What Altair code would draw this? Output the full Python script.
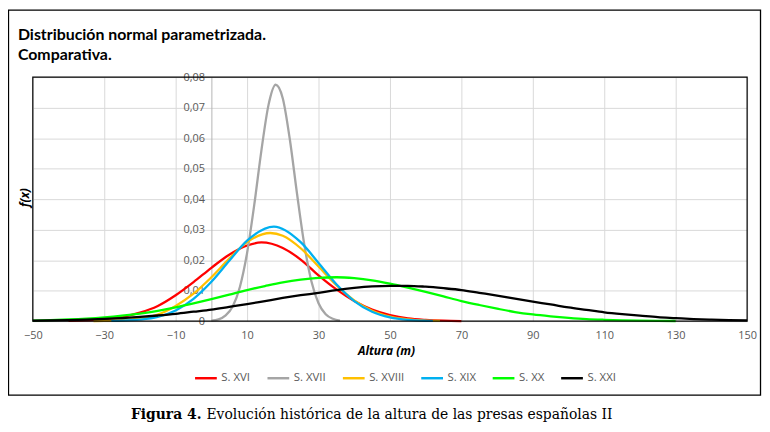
import altair as alt
import pandas as pd

# ---------------- data ----------------
series_names = ["S. XVI", "S. XVII", "S. XVIII", "S. XIX", "S. XX", "S. XXI"]
series_colors = ["#FF0000", "#A5A5A5", "#FFC000", "#00B0F0", "#00FF00", "#000000"]

xvi_x = [-40, -35, -30, -25, -20, -15, -10, -5, 0, 5, 10, 14, 20, 25, 30, 35, 40, 45, 50, 55, 60, 65, 70]
xvi_y = [0.0001, 0.00025, 0.0006, 0.0014, 0.0028, 0.0050, 0.0085, 0.0128, 0.0175, 0.0218, 0.0248, 0.0258,
         0.0240, 0.0202, 0.0150, 0.0104, 0.0066, 0.0038, 0.0020, 0.0009, 0.0004, 0.00015, 0.00005]

xvii_x = [0, 2, 4, 6, 8, 10, 12, 14, 16, 18, 20, 22, 24, 26, 28, 30, 32, 34, 36]
xvii_y = [0.0002, 0.0006, 0.0019, 0.0049, 0.0113, 0.0224, 0.0381, 0.0559, 0.0709, 0.0775,
          0.0730, 0.0593, 0.0416, 0.0252, 0.0131, 0.0059, 0.0023, 0.0008, 0.0002]

xviii_x = [-33, -30, -25, -20, -15, -10, -5, 0, 5, 10, 16.5, 20, 25, 30, 35, 40, 45, 50, 55, 60, 64]
xviii_y = [0.00005, 0.0001, 0.0003, 0.0009, 0.0022, 0.0050, 0.0090, 0.0144, 0.0205, 0.0259, 0.0289,
           0.0280, 0.0239, 0.0179, 0.0118, 0.0068, 0.0034, 0.0015, 0.0006, 0.0002, 0.0001]

xix_x = [-28, -25, -20, -15, -10, -5, 0, 5, 10, 17.5, 25, 30, 35, 40, 45, 50, 55, 60, 62]
xix_y = [0.00007, 0.00015, 0.0005, 0.0014, 0.0035, 0.0073, 0.0129, 0.0198, 0.0264, 0.0310,
         0.0259, 0.0191, 0.0121, 0.0066, 0.0031, 0.00125, 0.00043, 0.00013, 0.00008]

xx_x = [-50, -45, -40, -35, -30, -25, -20, -15, -10, -5, 0, 5, 10, 15, 20, 25, 30, 35, 40, 45,
        50, 55, 60, 65, 70, 75, 80, 85, 90, 95, 100, 105, 110, 115, 120, 125, 130]
xx_y = [0.0002, 0.00035, 0.00055, 0.00084, 0.00125, 0.0018, 0.0025, 0.0034, 0.0045, 0.0058,
        0.0072, 0.0087, 0.0102, 0.0115, 0.0127, 0.0136, 0.0142, 0.0144, 0.0141, 0.0134,
        0.0123, 0.0110, 0.0096, 0.0081, 0.0066, 0.0053, 0.0041, 0.0030, 0.0022, 0.0016,
        0.0011, 0.0007, 0.00046, 0.00029, 0.00018, 0.0001, 0.00006]

xxi_x = [-50, -45, -40, -35, -30, -25, -20, -15, -10, -5, 0, 5, 10, 15, 20, 25, 30, 35, 40, 45,
         50, 55, 60, 65, 70, 75, 80, 85, 90, 95, 100, 105, 110, 115, 120, 125, 130, 135, 140, 145, 150]
xxi_y = [0.00017, 0.00025, 0.00037, 0.00053, 0.00075, 0.00103, 0.0014, 0.00186, 0.0024, 0.0031,
         0.0038, 0.0047, 0.0056, 0.0066, 0.0076, 0.0085, 0.0093, 0.0102, 0.0109, 0.0114,
         0.0116, 0.0116, 0.0113, 0.0108, 0.0102, 0.0093, 0.0084, 0.0074, 0.0064, 0.0055,
         0.0045, 0.0037, 0.0029, 0.0023, 0.0018, 0.0013, 0.0010, 0.0007, 0.0005, 0.00034, 0.00023]

x_ticks = [-50, -30, -10, 10, 30, 50, 70, 90, 110, 130, 150]
y_ticks = [0, 0.01, 0.02, 0.03, 0.04, 0.05, 0.06, 0.07, 0.08]

title_line1 = "Distribución normal parametrizada."
title_line2 = "Comparativa."
x_title = "Altura (m)"
y_title = "f(x)"
caption_bold = "Figura 4."
caption_rest = "Evolución histórica de la altura de las presas españolas II"

# ---------------- build table ----------------
all_x = [xvi_x, xvii_x, xviii_x, xix_x, xx_x, xxi_x]
all_y = [xvi_y, xvii_y, xviii_y, xix_y, xx_y, xxi_y]
frames = []
for i, (name, xs, ys) in enumerate(zip(series_names, all_x, all_y)):
    frames.append(pd.DataFrame({"serie": name, "altura": xs, "fx": ys, "orden": i}))
df = pd.concat(frames, ignore_index=True)

label_font = "Open Sans"
one = pd.DataFrame({"k": [0]})

lines = alt.Chart(df).mark_line(strokeWidth=2.3, interpolate="monotone").encode(
    x=alt.X(
        "altura:Q",
        scale=alt.Scale(domain=[-50, 150], nice=False, zero=False),
        axis=alt.Axis(
            values=x_ticks, title=x_title, grid=True, gridColor="#d9d9d9",
            domain=False, ticks=False, labelColor="#595959", labelFont=label_font,
            labelFontSize=11, labelPadding=8, labelFlush=False, labelBound=False,
            titleFont=label_font, titleFontSize=12, titleFontStyle="italic",
            titleFontWeight="bold", titleColor="#000000",
            titleX=356, titleY=30, titleBaseline="middle", titleAlign="center",
        ),
    ),
    y=alt.Y(
        "fx:Q",
        scale=alt.Scale(domain=[0, 0.08], nice=False),
        axis=alt.Axis(
            values=y_ticks, offset=-180, grid=True, gridColor="#d9d9d9",
            domain=True, domainColor="#b5b5b5", ticks=False,
            labelColor="#595959", labelFont=label_font, labelFontSize=11, labelPadding=7,
            labelFlush=False,
            labelExpr="datum.value == 0 ? '0' : replace(format(datum.value, '.2f'), '.', ',')",
            title=y_title, titleFont=label_font, titleFontSize=12, titleFontStyle="italic",
            titleFontWeight="bold", titleColor="#000000", titleAngle=270,
            titleX=-188, titleY=121, titleBaseline="middle", titleAlign="center",
        ),
    ),
    color=alt.Color(
        "serie:N",
        scale=alt.Scale(domain=series_names, range=series_colors),
        legend=alt.Legend(
            orient="none", legendX=162, legendY=291, direction="horizontal", title=None,
            symbolType="stroke", symbolStrokeWidth=2.5, symbolSize=480,
            labelFont=label_font, labelFontSize=11.5, labelColor="#595959",
            labelOffset=3, columnPadding=11, padding=0,
        ),
    ),
    order=alt.Order("orden:Q"),
)

outer_box = alt.Chart(one).mark_rect(
    filled=False, stroke="#000000", strokeWidth=1.3
).encode(
    x=alt.value(-24.5), x2=alt.value(733.5), y=alt.value(-67.5), y2=alt.value(320.5)
)

plot_frame = alt.Chart(one).mark_rect(
    filled=False, stroke="#000000", strokeWidth=1.2
).encode(
    x=alt.value(0), x2=alt.value(720), y=alt.value(0), y2=alt.value(246)
)

t1 = alt.Chart(pd.DataFrame({"t": [title_line1]})).mark_text(
    font="Lato", fontSize=16, fontWeight="bold", align="left", baseline="alphabetic", color="#000000"
).encode(text="t:N", x=alt.value(-15), y=alt.value(-37))

t2 = alt.Chart(pd.DataFrame({"t": [title_line2]})).mark_text(
    font="Lato", fontSize=16, fontWeight="bold", align="left", baseline="alphabetic", color="#000000"
).encode(text="t:N", x=alt.value(-15), y=alt.value(-17))

cap1 = alt.Chart(pd.DataFrame({"t": [caption_bold]})).mark_text(
    font="DejaVu Serif", fontSize=14, fontWeight="bold", align="right",
    baseline="alphabetic", color="#000000"
).encode(text="t:N", x=alt.value(170), y=alt.value(345))

cap2 = alt.Chart(pd.DataFrame({"t": [caption_rest]})).mark_text(
    font="DejaVu Serif", fontSize=14, align="left",
    baseline="alphabetic", color="#000000"
).encode(text="t:N", x=alt.value(175), y=alt.value(345))

chart = alt.layer(outer_box, lines, plot_frame, t1, t2, cap1, cap2).properties(
    width=720,
    height=246,
    autosize=alt.AutoSizeParams(type="none"),
    padding={"left": 25, "top": 68, "right": 15, "bottom": 104},
    background="white",
).configure_view(stroke=None)

chart.save("out.html", embed_options={"renderer": "svg", "actions": False})
